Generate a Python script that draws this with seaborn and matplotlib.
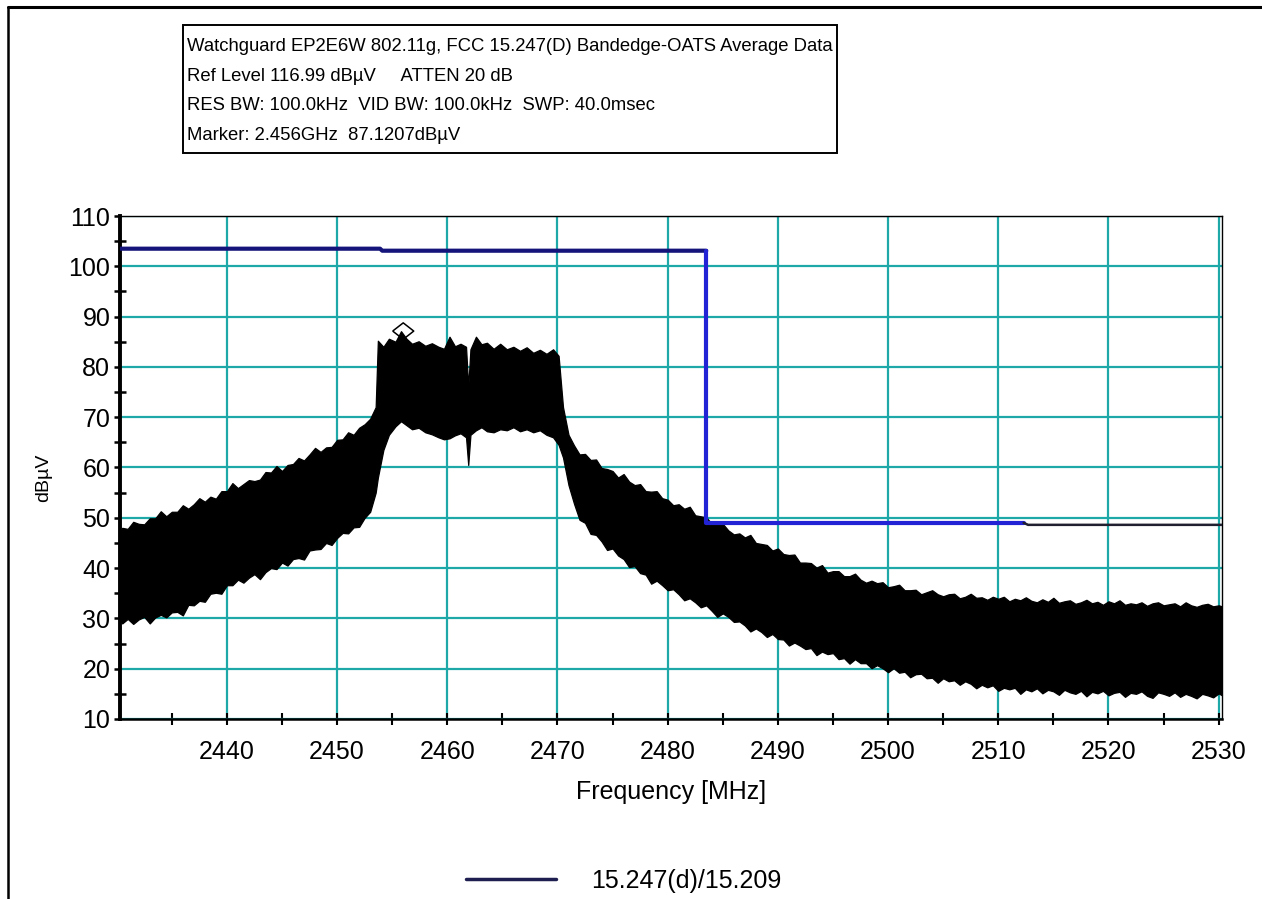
import matplotlib
matplotlib.use("Agg")
import matplotlib.pyplot as plt
from matplotlib.patches import Rectangle
from matplotlib.lines import Line2D
from matplotlib.path import Path
from matplotlib.ticker import MultipleLocator
import seaborn as sns

# ---------------------------------------------------------------- data
# Average-detector sweep, kept as the min/max envelope of the trace,
# in three pieces: lower skirt, occupied channel, upper skirt.
skirt_lo_freq = [
    2430.3, 2430.5, 2431.0, 2431.5, 2432.0, 2432.5, 2433.0, 2433.5, 2434.0, 2434.5,
    2435.0, 2435.5, 2436.0, 2436.5, 2437.0, 2437.5, 2438.0, 2438.5, 2439.0, 2439.5,
    2440.0, 2440.5, 2441.0, 2441.5, 2442.0, 2442.5, 2443.0, 2443.5, 2444.0, 2444.5,
    2445.0, 2445.5, 2446.0, 2446.5, 2447.0, 2447.5, 2448.0, 2448.5, 2449.0, 2449.5,
    2450.0, 2450.5, 2451.0, 2451.5, 2452.0, 2452.5, 2453.0, 2453.5,
]
skirt_lo_max = [
    47.3, 48.0, 47.8, 49.2, 48.8, 48.7, 49.9, 49.9, 51.3, 50.3,
    51.2, 51.2, 52.5, 51.8, 52.7, 53.9, 53.2, 54.2, 53.8, 55.3,
    55.3, 56.9, 55.9, 56.7, 57.5, 57.3, 57.6, 59.1, 59.0, 60.3,
    59.3, 60.5, 60.7, 61.9, 61.4, 62.6, 63.9, 63.1, 64.0, 64.1,
    65.5, 65.6, 67.0, 66.5, 67.9, 68.6, 69.7, 72.0,
]
skirt_lo_min = [
    29.6, 29.0, 29.9, 28.9, 29.8, 30.3, 29.0, 30.2, 30.7, 30.2,
    31.2, 31.3, 30.6, 32.7, 32.6, 33.5, 33.3, 34.9, 35.1, 34.9,
    36.6, 36.6, 37.7, 37.1, 38.1, 38.8, 37.8, 39.2, 40.0, 39.8,
    41.1, 40.5, 41.8, 42.0, 41.7, 43.5, 43.7, 43.8, 45.0, 44.6,
    46.0, 47.0, 46.9, 48.1, 48.2, 50.0, 51.2, 55.0,
]

channel_freq = [
    2453.7, 2454.2, 2454.7, 2455.3, 2455.8, 2456.3, 2456.8, 2457.4, 2458.0, 2458.6,
    2459.2, 2459.7, 2460.2, 2460.7, 2461.2, 2461.7, 2461.9, 2462.1, 2462.6, 2463.1,
    2463.6, 2464.2, 2464.8, 2465.4, 2466.0, 2466.6, 2467.2, 2467.8, 2468.4, 2469.0,
    2469.6, 2470.1, 2470.5,
]
channel_max = [
    85.2, 84.0, 85.6, 85.0, 87.1, 85.6, 84.6, 85.1, 84.2, 84.7,
    84.0, 83.6, 86.0, 84.1, 84.6, 84.0, 76.0, 83.5, 86.0, 84.5,
    84.8, 83.6, 84.6, 83.5, 84.0, 83.2, 83.9, 82.8, 83.4, 82.6,
    83.5, 82.2, 72.0,
]
channel_min = [
    58.0, 63.5, 66.5, 68.2, 69.2, 68.4, 67.6, 67.9, 67.0, 66.6,
    66.0, 65.6, 65.8, 66.4, 66.8, 66.0, 60.5, 66.5, 67.4, 68.0,
    67.2, 67.0, 67.6, 67.4, 68.0, 67.2, 67.6, 67.0, 67.4, 66.5,
    66.0, 64.5, 62.0,
]

skirt_hi_freq = [
    2471.0, 2471.5, 2472.0, 2472.5, 2473.0, 2473.5, 2474.0, 2474.5, 2475.0, 2475.5,
    2476.0, 2476.5, 2477.0, 2477.5, 2478.0, 2478.5, 2479.0, 2479.5, 2480.0, 2480.5,
    2481.0, 2481.5, 2482.0, 2482.5, 2483.0, 2483.5, 2484.0, 2484.5, 2485.0, 2485.5,
    2486.0, 2486.5, 2487.0, 2487.5, 2488.0, 2488.5, 2489.0, 2489.5, 2490.0, 2490.5,
    2491.0, 2491.5, 2492.0, 2492.5, 2493.0, 2493.5, 2494.0, 2494.5, 2495.0, 2495.5,
    2496.0, 2496.5, 2497.0, 2497.5, 2498.0, 2498.5, 2499.0, 2499.5, 2500.0, 2500.5,
    2501.0, 2501.5, 2502.0, 2502.5, 2503.0, 2503.5, 2504.0, 2504.5, 2505.0, 2505.5,
    2506.0, 2506.5, 2507.0, 2507.5, 2508.0, 2508.5, 2509.0, 2509.5, 2510.0, 2510.5,
    2511.0, 2511.5, 2512.0, 2512.5, 2513.0, 2513.5, 2514.0, 2514.5, 2515.0, 2515.5,
    2516.0, 2516.5, 2517.0, 2517.5, 2518.0, 2518.5, 2519.0, 2519.5, 2520.0, 2520.5,
    2521.0, 2521.5, 2522.0, 2522.5, 2523.0, 2523.5, 2524.0, 2524.5, 2525.0, 2525.5,
    2526.0, 2526.5, 2527.0, 2527.5, 2528.0, 2528.5, 2529.0, 2529.5, 2530.0, 2530.3,
]
skirt_hi_max = [
    66.5, 64.4, 62.6, 62.7, 61.5, 61.6, 59.9, 59.7, 59.3, 58.0,
    58.7, 57.2, 56.5, 56.7, 55.3, 55.2, 55.3, 53.9, 53.6, 52.5,
    52.7, 51.8, 52.2, 50.5, 50.3, 50.1, 48.8, 48.8, 48.8, 47.5,
    46.7, 46.9, 46.1, 46.6, 45.0, 44.8, 44.6, 43.5, 43.9, 42.8,
    42.6, 42.7, 41.1, 41.1, 41.0, 40.1, 40.6, 39.1, 39.4, 39.4,
    38.4, 38.4, 38.9, 37.7, 37.1, 37.5, 37.0, 37.2, 36.2, 36.4,
    36.7, 35.6, 35.6, 35.7, 34.8, 35.2, 35.6, 34.8, 34.4, 34.8,
    34.9, 34.0, 34.3, 34.9, 34.1, 34.2, 33.7, 34.3, 33.9, 34.3,
    33.4, 33.9, 33.6, 34.2, 33.5, 33.2, 33.8, 33.3, 34.1, 33.1,
    33.4, 33.6, 32.9, 33.2, 33.7, 33.0, 33.3, 32.7, 33.4, 33.0,
    33.6, 32.7, 33.0, 32.8, 33.2, 32.5, 33.0, 33.2, 32.6, 32.8,
    33.0, 32.4, 33.2, 32.6, 32.3, 32.7, 32.9, 32.4, 32.6, 32.4,
]
skirt_hi_min = [
    56.5, 52.8, 49.6, 49.0, 46.8, 46.6, 45.3, 43.6, 43.9, 42.5,
    41.8, 40.2, 40.4, 39.0, 38.7, 36.9, 37.5, 36.6, 35.6, 35.8,
    34.8, 33.6, 34.0, 33.2, 32.2, 32.6, 31.5, 30.3, 31.0, 30.3,
    29.3, 29.4, 28.6, 27.4, 28.0, 27.3, 26.3, 26.9, 25.9, 25.8,
    24.6, 25.2, 24.6, 23.9, 24.1, 22.7, 23.4, 22.9, 23.1, 21.9,
    22.1, 21.0, 21.9, 21.1, 21.1, 20.1, 20.7, 20.1, 19.3, 20.1,
    19.2, 19.4, 18.3, 18.9, 19.0, 18.1, 18.2, 17.2, 18.1, 17.5,
    17.7, 16.8, 17.5, 17.0, 16.1, 16.8, 16.3, 16.7, 15.6, 16.2,
    15.9, 16.2, 15.0, 15.9, 15.5, 16.1, 15.1, 15.8, 15.5, 14.8,
    15.8, 15.3, 15.0, 15.6, 14.5, 15.4, 15.1, 15.6, 14.7, 15.2,
    15.4, 14.4, 15.2, 15.0, 15.5, 14.6, 14.2, 15.3, 15.0, 14.6,
    15.3, 14.4, 15.0, 14.6, 14.1, 15.0, 14.7, 14.3, 15.1, 14.7,
]

# FCC 15.247(d) / 15.209 limit line
limit_freq = [2430.3, 2453.9, 2454.1, 2483.5, 2483.5, 2512.3, 2512.7, 2530.3]
limit_level = [103.5, 103.5, 103.1, 103.1, 49.0, 49.0, 48.6, 48.6]
limit_label = "15.247(d)/15.209"

marker_freq = [2456.0]
marker_level = [87.1207]

header_lines = [
    "Watchguard EP2E6W 802.11g, FCC 15.247(D) Bandedge-OATS Average Data",
    "Ref Level 116.99 dB\u00b5V     ATTEN 20 dB",
    "RES BW: 100.0kHz  VID BW: 100.0kHz  SWP: 40.0msec",
    "Marker: 2.456GHz  87.1207dB\u00b5V",
]

# ---------------------------------------------------------------- figure
sns.set_theme(style="white")
plt.rcParams["font.family"] = ["Liberation Sans", "DejaVu Sans"]

W, H = 1262, 899
fig = plt.figure(figsize=(W / 100, H / 100), dpi=100, facecolor="white")
left, right, top, bottom = 120, 1222, 216, 719
ax = fig.add_axes([left / W, 1 - bottom / H, (right - left) / W, (bottom - top) / H])
ax.set_facecolor("white")

# spectrum envelope
trace_freq = skirt_lo_freq + channel_freq + skirt_hi_freq
trace_max = skirt_lo_max + channel_max + skirt_hi_max
trace_min = skirt_lo_min + channel_min + skirt_hi_min
ax.fill_between(trace_freq, trace_min, trace_max, color="black",
                edgecolor="black", linewidth=0.9, zorder=3)

# limit line: navy upper part, blue restricted-band part, dark tail
sns.lineplot(x=limit_freq[:4], y=limit_level[:4], sort=False, estimator=None,
             color="#14147a", linewidth=3.0, label=limit_label, ax=ax, zorder=4)
sns.lineplot(x=limit_freq[3:6], y=limit_level[3:6], sort=False, estimator=None,
             color="#2323d6", linewidth=3.0, ax=ax, zorder=4)
sns.lineplot(x=limit_freq[5:], y=limit_level[5:], sort=False, estimator=None,
             color="#202030", linewidth=1.8, ax=ax, zorder=4)

# peak marker
diamond = Path([(-1, 0), (0, 0.78), (1, 0), (0, -0.78), (-1, 0)])
sns.scatterplot(x=marker_freq, y=marker_level, marker=diamond, s=230,
                facecolor="none", edgecolor="black", linewidth=1.1, ax=ax, zorder=5)

# axes ranges and ticks
ax.set_xlim(limit_freq[0], limit_freq[-1])
ax.set_ylim(10, 110)
ax.xaxis.set_major_locator(MultipleLocator(10))
ax.xaxis.set_minor_locator(MultipleLocator(5))
ax.yaxis.set_major_locator(MultipleLocator(10))
ax.yaxis.set_minor_locator(MultipleLocator(5))
ax.tick_params(axis="x", which="major", direction="inout", length=8, width=1.5,
               color="black", labelsize=18, pad=11, bottom=True)
ax.tick_params(axis="x", which="minor", direction="inout", length=8, width=1.5,
               color="black", bottom=True)
ax.tick_params(axis="y", which="major", direction="out", length=4, width=1.8,
               color="black", labelsize=18, pad=3, left=True)
ax.tick_params(axis="y", which="minor", direction="inout", length=8, width=1.8,
               color="black", left=True)

ax.grid(which="major", color="#1ea8a8", linewidth=1.6)
ax.set_axisbelow(True)

for side, lw in (("left", 2.8), ("bottom", 1.8), ("top", 1.0), ("right", 1.0)):
    ax.spines[side].set_visible(True)
    ax.spines[side].set_color("black")
    ax.spines[side].set_linewidth(lw)

ax.set_xlabel("Frequency [MHz]", fontsize=18, labelpad=12, color="black")
ax.set_ylabel("dB\u00b5V", fontsize=14, color="black")
ax.yaxis.set_label_coords(-0.062, 0.479)
for t in ax.get_xticklabels() + ax.get_yticklabels():
    t.set_color("black")

# legend below the plot
ax.legend(loc="center left", bbox_to_anchor=(466 / W, 1 - 881 / H),
          bbox_transform=fig.transFigure, frameon=False, fontsize=18,
          labelcolor="black", borderpad=0, borderaxespad=0,
          handlelength=3.6, handletextpad=1.4)
leg_line = ax.get_legend().get_lines()[0]
leg_line.set_color("#1e1e50")
leg_line.set_linewidth(2.5)

# header box with instrument settings
fig.patches.append(Rectangle((183 / W, 1 - 153 / H), (837 - 183) / W, (153 - 25) / H,
                             transform=fig.transFigure, fill=False,
                             edgecolor="black", linewidth=1.4))
for i, line in enumerate(header_lines):
    fig.text(187 / W, 1 - (51 + 29.7 * i) / H, line, fontsize=13.3,
             va="baseline", ha="left", color="black")

# outer frame (top and left edges)
fig.add_artist(Line2D([8 / W, 1.0], [1 - 7 / H, 1 - 7 / H],
                      transform=fig.transFigure, color="black", linewidth=2.2))
fig.add_artist(Line2D([8 / W, 8 / W], [1 - 7 / H, 0.0],
                      transform=fig.transFigure, color="black", linewidth=1.8))

fig.savefig("out.png", dpi=100, facecolor="white")
